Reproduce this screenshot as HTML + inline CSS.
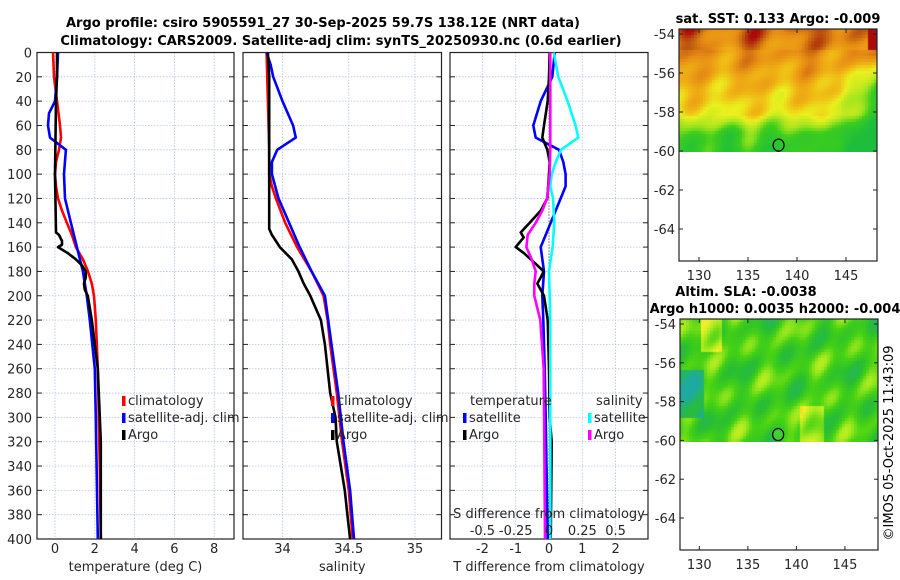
<!DOCTYPE html>
<html><head><meta charset="utf-8">
<style>
html,body{margin:0;padding:0;background:#fff;}
#wrap{position:relative;width:900px;height:580px;overflow:hidden;font-family:"DejaVu Sans","Liberation Sans",sans-serif;}
svg{position:absolute;left:0;top:0;}
canvas{position:absolute;}
</style></head>
<body>
<div id="wrap">
<canvas id="sst" width="198" height="123" style="left:679px;top:29px"></canvas>
<canvas id="sla" width="198" height="123" style="left:680px;top:319px"></canvas>
<svg id="fig" width="900" height="580" xmlns="http://www.w3.org/2000/svg"></svg>
</div>
<script>
// ---- data ----
const depthTicks = [0,20,40,60,80,100,120,140,160,180,200,220,240,260,280,300,320,340,360,380,400];
const tempTicks = [0,2,4,6,8];
const salTicks = [34,34.5,35];
const salTickLabels = ["34","34.5","35"];
const tdiffTicks = [-2,-1,0,1,2];
const sdiffTicks = [-0.5,-0.25,0,0.25,0.5];
const sdiffTickLabels = ["-0.5","-0.25","0","0.25","0.5"];

const tClimDepth = [0,20,40,60,70,80,90,100,110,120,130,140,150,160,170,180,190,200,220,260,300,340,400];
const tClimVal   = [-0.1,-0.05,0.1,0.25,0.3,0.2,0.05,0,0.05,0.15,0.35,0.6,0.85,1.05,1.4,1.66,1.85,1.96,2.05,2.15,2.2,2.25,2.3];
const tSatDepth = [0,20,40,50,60,70,80,100,120,140,160,180,200,220,260,300,400];
const tSatVal   = [0.15,0.1,0,-0.3,-0.35,-0.25,0.55,0.45,0.5,0.8,1.1,1.4,1.6,1.75,2.0,2.05,2.15];
const tArgoDepth = [0,20,40,100,148,150,155,158,160,165,170,175,180,185,190,195,200,220,260,320,400];
const tArgoVal   = [0.1,0.1,0.05,0,0.05,0.2,0.35,0.35,0.15,0.65,1.05,1.35,1.55,1.55,1.45,1.5,1.65,1.85,2.15,2.3,2.3];

const sClimDepth = [0,80,100,110,120,140,160,180,200,220,240,280,320,360,400];
const sClimVal   = [33.88,33.9,33.9,33.92,33.95,34.02,34.11,34.22,34.31,34.34,34.36,34.41,34.45,34.5,34.53];
const sSatDepth = [0,10,20,40,60,70,80,90,100,120,140,160,180,200,240,280,320,360,400];
const sSatVal   = [33.88,33.91,33.93,34.0,34.08,34.1,33.96,33.92,33.92,33.97,34.05,34.13,34.22,34.32,34.37,34.42,34.46,34.51,34.54];
const sArgoDepth = [0,20,100,145,150,155,160,170,180,190,200,220,240,280,300,320,340,360,380,400];
const sArgoVal   = [33.89,33.9,33.9,33.9,33.92,33.95,33.98,34.07,34.12,34.16,34.21,34.29,34.32,34.36,34.4,34.41,34.44,34.47,34.49,34.51];

const dtSatDepth = [0,20,40,60,70,80,90,100,110,120,140,160,180,200,220,260,300,400];
const dtSatVal   = [0.17,0.1,-0.25,-0.47,-0.4,0.3,0.43,0.5,0.5,0.35,0.05,-0.25,-0.15,-0.2,-0.17,-0.13,-0.1,-0.04];
const dtArgoDepth = [0,20,40,60,70,80,90,100,120,130,140,148,152,160,165,170,175,180,185,190,200,220,260,300,320,400];
const dtArgoVal   = [0.02,0,-0.04,-0.15,-0.2,-0.05,0.02,0,-0.05,-0.25,-0.58,-0.85,-0.76,-1.0,-0.75,-0.55,-0.35,-0.16,-0.25,-0.35,-0.15,-0.04,0,0.02,0.08,0.05];
const dsSatDepth = [0,20,40,60,70,80,90,100,110,120,140,160,180,200,220,400];
const dsSatVal   = [0.035,0.07,0.14,0.2,0.22,0.09,0.05,0.02,0.01,0.03,0.04,0.027,0,0.005,0.01,0.01];
const dsArgoDepth = [0,40,80,100,120,130,140,150,160,170,180,190,200,220,260,320,400];
const dsArgoVal   = [0.01,0.01,0.01,0.005,-0.015,-0.05,-0.1,-0.16,-0.17,-0.13,-0.1,-0.11,-0.11,-0.065,-0.04,-0.035,-0.03];

const latTicks = [-54,-56,-58,-60,-62,-64];
const lonTicks = [130,135,140,145];
const argoLon = 138.12, argoLat = -59.7;

// ---- axes ----
const Y0=52.5, Y1=539;
const yD = d => Y0 + d*(Y1-Y0)/400;
const P1={l:37,r:234}, P2={l:243,r:441.5}, P3={l:450,r:648};
const xT = v => 55 + v*19.9;
const xS = v => 282.5 + (v-34)*132.5;
const xDT = v => 549 + v*33.3;
const xDS = v => 549 + v*133.2;
const M1={l:679,r:877,t:29,b:261}, M2={l:680,r:878,t:319,b:550};
const mx1 = lon => 699 + (lon-130)*9.8;
const my1 = lat => 34 + (-54-lat)*19.5;
const mx2 = lon => 699.3 + (lon-130)*9.71;
const my2 = lat => 324 + (-54-lat)*19.4;

const svg=document.getElementById('fig');
const NS="http://www.w3.org/2000/svg";
function mk(tag,attrs,parent){const e=document.createElementNS(NS,tag);for(const k in attrs)e.setAttribute(k,attrs[k]);(parent||svg).appendChild(e);return e;}
function txt(s,x,y,attrs,parent){const e=mk('text',Object.assign({x:x,y:y,'font-size':13,fill:'#262626'},attrs||{}),parent);e.textContent=s;return e;}

function panel(P,name,xticks,xf,xlabels,xtitle){
  const g=mk('g',{});
  
  
  depthTicks.forEach(d=>{const l=mk('line',{x1:P.l,x2:P.r,y1:yD(d),y2:yD(d),stroke:'#b8c4ea','stroke-width':0.8,'stroke-dasharray':'1.5,1.5'},g);
    
    mk('line',{x1:P.l,x2:P.l+5,y1:yD(d),y2:yD(d),stroke:'#222'},g);
    mk('line',{x1:P.r-5,x2:P.r,y1:yD(d),y2:yD(d),stroke:'#222'},g);});
  xticks.forEach((v,i)=>{const x=xf(v);const l=mk('line',{x1:x,x2:x,y1:Y0,y2:Y1,stroke:'#b8c4ea','stroke-width':0.8,'stroke-dasharray':'1.5,1.5'},g);
    
    const t=txt(xlabels[i],x,553,{'text-anchor':'middle'},g);
    });
  const b=mk('rect',{x:P.l,y:Y0,width:P.r-P.l,height:Y1-Y0,fill:'none',stroke:'#222','stroke-width':1.2},g);
  
  const tt=txt(xtitle,(P.l+P.r)/2,571,{'text-anchor':'middle'},g);
  
  return g;
}
const g1=panel(P1,'temperature-panel',tempTicks,xT,tempTicks.map(String),'temperature (deg C)');
depthTicks.forEach(d=>{const t=txt(String(d),32,yD(d)+5,{'text-anchor':'end'});
  });
const g2=panel(P2,'salinity-panel',salTicks,xS,salTickLabels,'salinity');
const g3=panel(P3,'difference-panel',tdiffTicks,xDT,tdiffTicks.map(String),'T difference from climatology');

function series(depths,vals,xf,color,name,parent,w){
  const pts=depths.map((d,i)=>xf(vals[i]).toFixed(1)+','+yD(d).toFixed(1)).join(' ');
  const p=mk('polyline',{points:pts,fill:'none',stroke:color,'stroke-width':w||2.6,'stroke-linejoin':'round'},parent);
  
  
}
series(tClimDepth,tClimVal,xT,'#ff0000','temp-climatology-line',g1);
series(tSatDepth,tSatVal,xT,'#0000ff','temp-satellite-line',g1);
series(tArgoDepth,tArgoVal,xT,'#000000','temp-argo-line',g1);
series(sClimDepth,sClimVal,xS,'#ff0000','sal-climatology-line',g2);
series(sSatDepth,sSatVal,xS,'#0000ff','sal-satellite-line',g2);
series(sArgoDepth,sArgoVal,xS,'#000000','sal-argo-line',g2);
const zl=mk('line',{x1:xDT(0),x2:xDT(0),y1:Y0,y2:Y1,stroke:'#333','stroke-width':1,'stroke-dasharray':'1,2'},g3);

series(dtSatDepth,dtSatVal,xDT,'#0000ff','tdiff-satellite-line',g3);
series(dtArgoDepth,dtArgoVal,xDT,'#000000','tdiff-argo-line',g3);
series(dsSatDepth,dsSatVal,xDS,'#00ffff','sdiff-satellite-line',g3);
series(dsArgoDepth,dsArgoVal,xDS,'#ff00ff','sdiff-argo-line',g3);

const sl=txt('S difference from climatology',549,518,{'text-anchor':'middle'},g3);

sdiffTicks.forEach((v,i)=>{const t=txt(sdiffTickLabels[i],xDS(v),535,{'text-anchor':'middle'},g3);
  });

function legend(x,items,parent,name){
  const g=mk('g',{},parent);
  
  items.forEach((it,i)=>{
    if(it[1]){const r=mk('rect',{x:x,y:396+i*17,width:3.5,height:10,fill:it[1]},g);
      }
    const t=txt(it[0],x+(it[1]?6:0),405+i*17,{},g);
    
  });
}
legend(122,[['climatology','#ff0000'],['satellite-adj. clim','#0000ff'],['Argo','#000000']],g1,'temperature-legend');
legend(331,[['climatology','#ff0000'],['satellite-adj. clim','#0000ff'],['Argo','#000000']],g2,'salinity-legend');
txt('temperature',470,405,{},g3);
legend(463,[[null,null],['satellite','#0000ff'],['Argo','#000000']],g3,'tdiff-legend');
txt('salinity',596,405,{},g3);
legend(588,[[null,null],['satellite','#00ffff'],['Argo','#ff00ff']],g3,'sdiff-legend');

// titles
const t1=txt('Argo profile: csiro 5905591_27 30-Sep-2025 59.7S 138.12E (NRT data)',323,27,{'text-anchor':'middle','font-weight':'bold','fill':'#000'});

const t2=txt('Climatology: CARS2009. Satellite-adj clim: synTS_20250930.nc (0.6d earlier)',341,45,{'text-anchor':'middle','font-weight':'bold','fill':'#000'});


// maps
function mapAxes(M,mx,my,name,fillCircle,xlabY){
  const g=mk('g',{});
  
  const b=mk('rect',{x:M.l,y:M.t,width:M.r-M.l,height:M.b-M.t,fill:'none',stroke:'#222','stroke-width':1.2},g);
  
  latTicks.forEach(v=>{const y=my(v);mk('line',{x1:M.l,x2:M.l+4,y1:y,y2:y,stroke:'#222'},g);mk('line',{x1:M.r-4,x2:M.r,y1:y,y2:y,stroke:'#222'},g);
    const t=txt(String(v),M.l-4,y+5,{'text-anchor':'end'},g);});
  lonTicks.forEach(v=>{const x=mx(v);mk('line',{x1:x,x2:x,y1:M.b-4,y2:M.b,stroke:'#222'},g);mk('line',{x1:x,x2:x,y1:M.t,y2:M.t+4,stroke:'#222'},g);
    const t=txt(String(v),x,xlabY,{'text-anchor':'middle'},g);});
  const c=mk('ellipse',{cx:mx(argoLon),cy:my(argoLat),rx:5.5,ry:6,fill:fillCircle,stroke:'#000','stroke-width':1.2},g);
  
}
mapAxes(M1,mx1,my1,'sst-map',"none",280);
mapAxes(M2,mx2,my2,'sla-map',"#40d030",569);
const mt1=txt('sat. SST: 0.133 Argo: -0.009',778,23,{'text-anchor':'middle','font-weight':'bold','fill':'#000'});

const mt2=txt('Altim. SLA: -0.0038',746,296,{'text-anchor':'middle','font-weight':'bold','fill':'#000'});

const mt3=txt('Argo h1000: 0.0035 h2000: -0.004',775,313,{'text-anchor':'middle','font-weight':'bold','fill':'#000'});

const cp=txt('©IMOS 05-Oct-2025 11:43:09',0,0,{'text-anchor':'middle','transform':'translate(893,443) rotate(-90)','fill':'#000'});


// map rasters
function cmap(stops,v){v=Math.max(0,Math.min(1,v));for(let i=1;i<stops.length;i++){if(v<=stops[i][0]){const a=stops[i-1],b=stops[i];const f=(v-a[0])/(b[0]-a[0]);return a[1].map((c,k)=>Math.round(c+(b[1][k]-c)*f));}}return stops[stops.length-1][1];}
const sstStops=[[0,[30,190,60]],[0.25,[60,205,30]],[0.42,[170,230,30]],[0.55,[235,240,30]],[0.68,[240,180,20]],[0.8,[230,140,20]],[0.9,[190,90,15]],[1,[170,10,10]]];
const slaStops=[[0,[30,170,160]],[0.3,[40,190,50]],[0.45,[70,210,20]],[0.6,[170,235,30]],[0.75,[240,240,40]],[0.9,[245,170,30]],[1,[240,120,20]]];
function raster(id,fn,stops){const c=document.getElementById(id);const ctx=c.getContext('2d');
  for(let y=0;y<c.height;y+=3)for(let x=0;x<c.width;x+=3){const col=cmap(stops,fn(x/c.width,y/c.height));ctx.fillStyle='rgb('+col.join(',')+')';ctx.fillRect(x,y,3,3);}}
raster('sst',(u,v)=>{let val=0.86-0.42*v+0.05*Math.sin(u*22)+0.04*Math.sin(u*37+v*9)+0.03*Math.cos(v*30+u*13);
  if(v<0.15)val+=0.05*Math.sin(u*18+1);
  if(v>0.68)val-=0.35*Math.min(1,(v-0.68)*6)*(0.8+0.2*Math.sin(u*31));
  if(u>0.8&&v>0.2)val-=0.5*(u-0.8)*5*Math.min(1,(v-0.2)*4);
  if(u>0.95&&v<0.15)val+=0.35;
  return val;},sstStops);
raster('sla',(u,v)=>{let val=0.42+0.1*Math.sin(u*23+1)*Math.cos(v*7)+0.08*Math.sin(v*19+u*11)+0.06*Math.cos(u*47+v*13);
  if(u>0.1&&u<0.2&&v<0.25)val+=0.25;
  if(u>0.6&&u<0.72&&v>0.7)val+=0.2;
  if(u<0.12&&v>0.4&&v<0.8)val-=0.3;
  return val;},slaStops);
</script>
</body></html>
